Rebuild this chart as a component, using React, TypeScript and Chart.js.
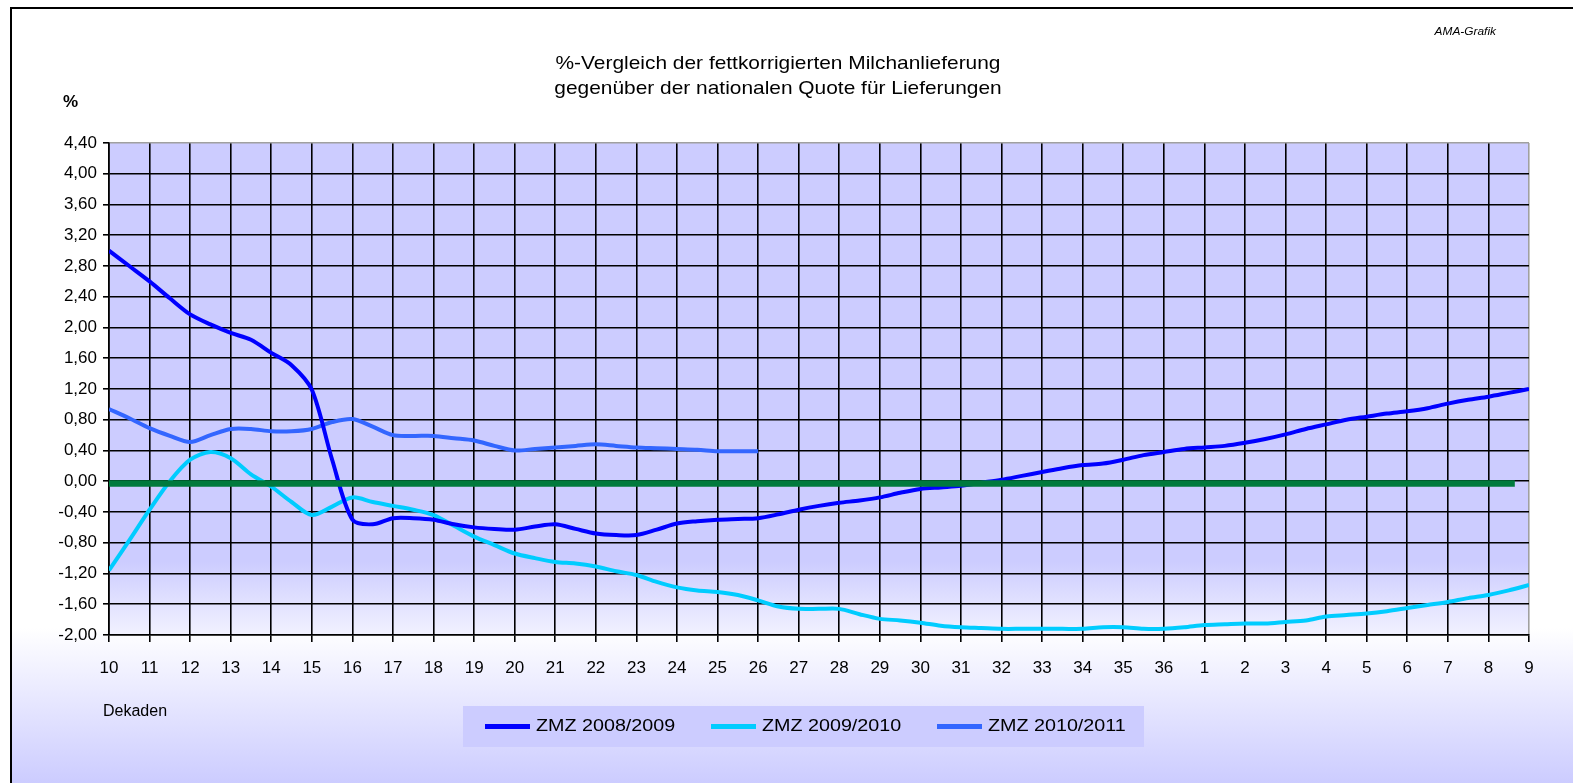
import React, { useEffect, useRef } from "react";
import { Chart, registerables } from "chart.js";

Chart.register(...registerables);

// Dekaden tick labels (one per grid line)
const xLabels = [
  "10", "11", "12", "13", "14", "15", "16", "17", "18", "19", "20", "21", "22", "23",
  "24", "25", "26", "27", "28", "29", "30", "31", "32", "33", "34", "35", "36",
  "1", "2", "3", "4", "5", "6", "7", "8", "9",
];

// sample positions: every half Dekade, index 0 = "10"
const xSteps = Array.from({ length: 71 }, (_, i) => i / 2);

const zmz0809 = [
  3.0, 2.8, 2.6, 2.38, 2.17, 2.04, 1.93, 1.84, 1.67, 1.51, 1.19,
  0.28, -0.5, -0.56, -0.48, -0.48, -0.5, -0.56, -0.6, -0.62, -0.63,
  -0.59, -0.56, -0.62, -0.68, -0.7, -0.7, -0.63, -0.55, -0.52, -0.5,
  -0.49, -0.48, -0.43, -0.37, -0.32, -0.28, -0.25, -0.21, -0.15, -0.1,
  -0.08, -0.06, -0.02, 0.02, 0.07, 0.12, 0.17, 0.21, 0.23, 0.28,
  0.34, 0.38, 0.42, 0.44, 0.46, 0.5, 0.55, 0.61, 0.68, 0.74,
  0.8, 0.84, 0.88, 0.91, 0.95, 1.01, 1.06, 1.1, 1.15, 1.2,
];

const zmz0910 = [
  -1.16, -0.77, -0.37, 0.0, 0.28, 0.38, 0.3, 0.09, -0.07, -0.27, -0.44,
  -0.33, -0.21, -0.27, -0.32, -0.37, -0.44, -0.58, -0.72, -0.83, -0.94,
  -1.0, -1.05, -1.07, -1.11, -1.17, -1.22, -1.31, -1.38, -1.42, -1.44,
  -1.48, -1.55, -1.63, -1.66, -1.66, -1.66, -1.73, -1.79, -1.81, -1.84,
  -1.88, -1.9, -1.91, -1.92, -1.92, -1.92, -1.92, -1.92, -1.9, -1.9,
  -1.92, -1.92, -1.9, -1.87, -1.86, -1.85, -1.85, -1.83, -1.81, -1.76,
  -1.74, -1.72, -1.69, -1.65, -1.61, -1.57, -1.52, -1.48, -1.42, -1.35,
];

const zmz1011 = [
  0.94, 0.82, 0.69, 0.59, 0.51, 0.6, 0.68, 0.68, 0.65, 0.65, 0.68,
  0.77, 0.81, 0.71, 0.6, 0.59, 0.59, 0.56, 0.53, 0.46, 0.4,
  0.42, 0.44, 0.46, 0.48, 0.46, 0.44, 0.43, 0.42, 0.41, 0.39, 0.39, 0.39,
];

// national quota reference line
const quoteLevel = -0.03;
const quoteRange = [0, 34.65];

const seriesNames = ["ZMZ 2008/2009", "ZMZ 2009/2010", "ZMZ 2010/2011"];
const seriesColors = ["#0000FF", "#00CCFF", "#3366FF"];
const seriesValues = [zmz0809, zmz0910, zmz1011];

const titleLines = [
  "%-Vergleich der fettkorrigierten Milchanlieferung",
  "gegenüber der nationalen Quote für Lieferungen",
];

const FONT = "'Liberation Sans', Arial, Helvetica, sans-serif";

function stretchText(
  ctx: CanvasRenderingContext2D,
  text: string,
  x: number,
  y: number,
  sx: number,
  align: CanvasTextAlign
) {
  ctx.save();
  ctx.translate(x, y);
  ctx.scale(sx, 1);
  ctx.textAlign = align;
  ctx.textBaseline = "middle";
  ctx.fillText(text, 0, 0);
  ctx.restore();
}

const decorPlugin = {
  id: "decor",
  beforeDraw(chart: any) {
    const ctx: CanvasRenderingContext2D = chart.ctx;
    const W = chart.width;
    const H = chart.height;
    const ca = chart.chartArea;
    ctx.save();
    ctx.fillStyle = "#FFFFFF";
    ctx.fillRect(0, 0, W, H);
    const g = ctx.createLinearGradient(0, 8, 0, H);
    g.addColorStop(0, "#FFFFFF");
    g.addColorStop(0.8, "#FFFFFF");
    g.addColorStop(1, "#CCCCFF");
    ctx.fillStyle = g;
    ctx.fillRect(11, 8, W, H);
    const pg = ctx.createLinearGradient(0, ca.top, 0, ca.bottom);
    pg.addColorStop(0, "#CCCCFF");
    pg.addColorStop(0.85, "#CCCCFF");
    pg.addColorStop(1, "#F2F2FF");
    ctx.fillStyle = pg;
    ctx.fillRect(ca.left, ca.top, ca.right - ca.left, ca.bottom - ca.top);
    ctx.strokeStyle = "#000000";
    ctx.lineWidth = 2;
    ctx.beginPath();
    ctx.moveTo(11, H + 5);
    ctx.lineTo(11, 8);
    ctx.lineTo(W + 5, 8);
    ctx.stroke();
    ctx.restore();
  },
  afterDraw(chart: any) {
    const ctx: CanvasRenderingContext2D = chart.ctx;
    ctx.save();
    ctx.fillStyle = "#000000";
    ctx.font = `19px ${FONT}`;
    stretchText(ctx, titleLines[0], 778, 64, 1.1, "center");
    stretchText(ctx, titleLines[1], 778, 89, 1.1, "center");

    ctx.font = `italic 11px ${FONT}`;
    stretchText(ctx, "AMA-Grafik", 1496, 32, 1.08, "right");

    ctx.font = `bold 17px ${FONT}`;
    stretchText(ctx, "%", 63, 102, 1.0, "left");

    ctx.font = `16px ${FONT}`;
    stretchText(ctx, "Dekaden", 103, 712, 1.0, "left");

    // legend
    const lx = 463, ly = 706, lw = 681, lh = 41;
    ctx.fillStyle = "#CCCCFF";
    ctx.fillRect(lx, ly, lw, lh);
    ctx.font = `17px ${FONT}`;
    seriesNames.forEach((name, i) => {
      const x0 = lx + 22 + i * 226;
      const yc = ly + lh / 2;
      ctx.strokeStyle = seriesColors[i];
      ctx.lineWidth = 5;
      ctx.beginPath();
      ctx.moveTo(x0, yc);
      ctx.lineTo(x0 + 45, yc);
      ctx.stroke();
      ctx.fillStyle = "#000000";
      stretchText(ctx, name, x0 + 51, yc, 1.16, "left");
    });
    ctx.restore();
  },
};

export default function App() {
  const canvasRef = useRef<HTMLCanvasElement | null>(null);

  useEffect(() => {
    document.body.style.margin = "0";
    const canvas = canvasRef.current;
    if (!canvas) return;

    const datasets: any[] = [
      {
        label: "Quote",
        data: quoteRange.map((x) => ({ x, y: quoteLevel })),
        borderColor: "#007A3D",
        borderWidth: 6.5,
        pointRadius: 0,
        tension: 0,
        borderCapStyle: "butt",
        order: 0,
      },
    ];
    seriesValues.forEach((vals, i) => {
      datasets.push({
        label: seriesNames[i],
        data: vals.map((y, k) => ({ x: xSteps[k], y })),
        borderColor: seriesColors[i],
        backgroundColor: seriesColors[i],
        borderWidth: 4,
        pointRadius: 0,
        tension: 0.3,
        borderCapStyle: "butt",
        borderJoinStyle: "round",
        order: i + 1,
      });
    });

    const chart = new Chart(canvas, {
      type: "line",
      data: { datasets },
      plugins: [decorPlugin],
      options: {
        animation: false,
        responsive: false,
        devicePixelRatio: 1,
        layout: { padding: { left: 0, top: 143, right: 44, bottom: 0 } },
        plugins: {
          legend: { display: false },
          tooltip: { enabled: false },
          title: { display: false },
        },
        scales: {
          x: {
            type: "linear",
            min: 0,
            max: 35,
            afterFit: (scale: any) => {
              scale.height = 148;
            },
            ticks: {
              stepSize: 1,
              autoSkip: false,
              maxRotation: 0,
              padding: 16,
              color: "#000000",
              font: { family: FONT, size: 17 },
              callback: (v: any) => xLabels[Math.round(Number(v))] ?? "",
            },
            grid: {
              color: (c: any) => (c.tick && c.tick.value === 35 ? "#A0A0A0" : "#000000"),
              lineWidth: 1.6,
              tickLength: 7,
              tickColor: "#000000",
            },
            border: { color: "#000000", width: 1.6 },
          },
          y: {
            type: "linear",
            min: -2,
            max: 4.4,
            afterFit: (scale: any) => {
              scale.width = 109;
            },
            ticks: {
              stepSize: 0.4,
              padding: 6,
              color: "#000000",
              font: { family: FONT, size: 17 },
              callback: (v: any) => Number(v).toFixed(2).replace(".", ","),
            },
            grid: {
              color: (c: any) =>
                c.tick && Math.abs(c.tick.value - 4.4) < 1e-6 ? "#A0A0A0" : "#000000",
              lineWidth: 1.6,
              tickLength: 6,
              tickColor: "#000000",
            },
            border: { color: "#000000", width: 1.6 },
          },
        },
      } as any,
    });

    return () => chart.destroy();
  }, []);

  return (
    <div style={{ position: "absolute", left: 0, top: 0, width: 1573, height: 783 }}>
      <canvas ref={canvasRef} width={1573} height={783} />
    </div>
  );
}
